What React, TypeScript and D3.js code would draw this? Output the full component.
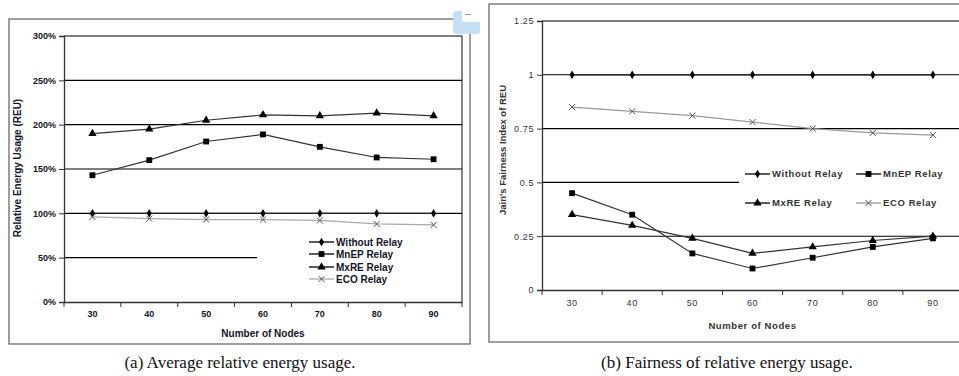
import React, { useEffect, useRef } from "react";
import * as d3 from "d3";

// data
const nodes = ["30", "40", "50", "60", "70", "80", "90"];

const seriesNames = ["Without Relay", "MnEP Relay", "MxRE Relay", "ECO Relay"];

// (a) relative energy usage, in percent
const reuWithout = [100, 100, 100, 100, 100, 100, 100];
const reuMnEP = [143, 160, 181, 189, 175, 163, 161];
const reuMxRE = [190, 195, 205, 211, 210, 213, 210];
const reuECO = [96, 94, 93, 93, 92, 88, 87];

// (b) Jain's fairness index of REU
const fairWithout = [1, 1, 1, 1, 1, 1, 1];
const fairMnEP = [0.45, 0.35, 0.17, 0.1, 0.15, 0.2, 0.24];
const fairMxRE = [0.35, 0.3, 0.24, 0.17, 0.2, 0.23, 0.25];
const fairECO = [0.85, 0.83, 0.81, 0.78, 0.75, 0.73, 0.72];

const reuTicks = [0, 50, 100, 150, 200, 250, 300];
const fairTicks = [0, 0.25, 0.5, 0.75, 1, 1.25];

const sans = "'Liberation Sans', Arial, sans-serif";
const serif = "'Liberation Serif', 'Times New Roman', serif";

const symbols = [d3.symbolDiamond, d3.symbolSquare, d3.symbolTriangle, d3.symbolX];
const symbolSizes = [22, 34, 30, 26];
const lineColors = ["#222", "#333", "#333", "#aaa"];

const App = () => {
    const svgRef = useRef();

    useEffect(() => {
        const svg = d3.select(svgRef.current);
        svg.selectAll("*").remove();

        const drawMarker = (g, i, x, y, color) => {
            const path = d3.symbol().type(symbols[i]).size(symbolSizes[i])();
            const m = g
                .append("path")
                .attr("d", path)
                .attr("transform", `translate(${x},${y})`);
            if (i === 3) {
                m.attr("fill", "none").attr("stroke", color).attr("stroke-width", 1);
            } else {
                m.attr("fill", "#000");
            }
        };

        const drawChart = (opts) => {
            const {
                left, right, top, bottom, domainMax, ticks, tickFmt, series,
                box, legendBg, gridCut, textColor, tickWeight, tickSpacing,
                yTitle, yTitleX, yTitleY, xLabelY, xTitleY, titleSize, ecoColor,
            } = opts;

            const g = svg.append("g");

            // outer frame
            g.append("rect")
                .attr("x", box.x)
                .attr("y", box.y)
                .attr("width", box.w)
                .attr("height", box.h)
                .attr("fill", "#fff")
                .attr("stroke", "#6a6a6a")
                .attr("stroke-width", 1.3);

            const xScale = d3.scaleBand().domain(nodes).range([left, right]).padding(0);
            const yScale = d3.scaleLinear().domain([0, domainMax]).range([bottom, top]);

            // horizontal gridlines (the one behind the legend is cut short)
            ticks.filter((t) => t > 0).forEach((t) => {
                g.append("line")
                    .attr("x1", left)
                    .attr("x2", t === gridCut.value ? gridCut.x : right)
                    .attr("y1", yScale(t))
                    .attr("y2", yScale(t))
                    .attr("stroke", "#000")
                    .attr("stroke-width", 1.1);
            });

            // right border of plot
            g.append("line")
                .attr("x1", right)
                .attr("x2", right)
                .attr("y1", top)
                .attr("y2", bottom)
                .attr("stroke", "#222")
                .attr("stroke-width", 1.1);

            // y axis
            const yAxis = g
                .append("g")
                .attr("transform", `translate(${left},0)`)
                .call(
                    d3.axisLeft(yScale)
                        .tickValues(ticks)
                        .tickSize(5)
                        .tickPadding(3)
                        .tickFormat(tickFmt)
                );
            yAxis.select(".domain").attr("stroke", "#333").attr("stroke-width", 1.3);
            yAxis.selectAll(".tick line").attr("stroke", "#333");
            yAxis.selectAll("text")
                .attr("font-family", sans)
                .attr("font-size", 9)
                .attr("font-weight", tickWeight)
                .attr("fill", textColor)
                .attr("letter-spacing", tickSpacing);

            // x axis: labels in band centres, ticks on band edges
            const xAxis = g
                .append("g")
                .attr("transform", `translate(0,${bottom})`)
                .call(d3.axisBottom(xScale).tickSize(0).tickPadding(xLabelY - bottom));
            xAxis.select(".domain").attr("stroke", "#333").attr("stroke-width", 1.3);
            xAxis.selectAll("text")
                .attr("font-family", sans)
                .attr("font-size", 9)
                .attr("font-weight", tickWeight)
                .attr("fill", textColor)
                .attr("letter-spacing", tickSpacing);
            const edges = nodes.map((d) => xScale(d)).concat([right]);
            edges.forEach((x) => {
                g.append("line")
                    .attr("x1", x)
                    .attr("x2", x)
                    .attr("y1", bottom)
                    .attr("y2", bottom + 5)
                    .attr("stroke", "#333");
            });

            // titles
            g.append("text")
                .attr("x", (left + right) / 2)
                .attr("y", xTitleY)
                .attr("text-anchor", "middle")
                .attr("font-family", sans)
                .attr("font-size", titleSize)
                .attr("font-weight", "bold")
                .attr("fill", textColor)
                .attr("letter-spacing", tickSpacing)
                .text("Number of Nodes");

            g.append("text")
                .attr("transform", `translate(${yTitleX},${yTitleY}) rotate(-90)`)
                .attr("text-anchor", "middle")
                .attr("font-family", sans)
                .attr("font-size", titleSize)
                .attr("font-weight", "bold")
                .attr("fill", textColor)
                .text(yTitle);

            // legend background hides gridline
            g.append("rect")
                .attr("x", legendBg.x)
                .attr("y", legendBg.y)
                .attr("width", legendBg.w)
                .attr("height", legendBg.h)
                .attr("fill", "#fff");

            // series
            const line = d3
                .line()
                .x((d, i) => xScale(nodes[i]) + xScale.bandwidth() / 2)
                .y((d) => yScale(d));

            series.forEach((values, si) => {
                const col = si === 3 ? ecoColor : lineColors[si];
                g.append("path")
                    .datum(values)
                    .attr("d", line)
                    .attr("fill", "none")
                    .attr("stroke", col)
                    .attr("stroke-width", 1.2);
                values.forEach((v, i) => {
                    drawMarker(
                        g,
                        si,
                        xScale(nodes[i]) + xScale.bandwidth() / 2,
                        yScale(v),
                        si === 3 ? "#555" : "#000"
                    );
                });
            });

            // legend
            opts.legendItems.forEach((it, si) => {
                const col = si === 3 ? ecoColor : "#000";
                g.append("line")
                    .attr("x1", it.x)
                    .attr("x2", it.x + it.len)
                    .attr("y1", it.y)
                    .attr("y2", it.y)
                    .attr("stroke", col)
                    .attr("stroke-width", 1.3);
                drawMarker(g, si, it.x + it.len / 2, it.y, "#555");
                g.append("text")
                    .attr("x", it.x + it.len + 2)
                    .attr("y", it.y)
                    .attr("dy", "0.35em")
                    .attr("font-family", sans)
                    .attr("font-size", opts.legendSize)
                    .attr("font-weight", "bold")
                    .attr("fill", textColor)
                    .attr("letter-spacing", tickSpacing)
                    .text(seriesNames[si]);
            });
        };

        // (a) average relative energy usage
        drawChart({
            left: 64,
            right: 462,
            top: 36,
            bottom: 302,
            domainMax: 300,
            ticks: reuTicks,
            tickFmt: (d) => `${d}%`,
            series: [reuWithout, reuMnEP, reuMxRE, reuECO],
            box: { x: 9, y: 19, w: 461, h: 325 },
            legendBg: { x: 257, y: 231, w: 204, h: 58 },
            gridCut: { value: 50, x: 257 },
            textColor: "#141428",
            tickWeight: "bold",
            tickSpacing: 0,
            yTitle: "Relative Energy Usage (REU)",
            yTitleX: 21,
            yTitleY: 168,
            xLabelY: 311,
            xTitleY: 337,
            titleSize: 10,
            ecoColor: "#aaa",
            legendSize: 10,
            legendItems: [
                { x: 309, y: 242, len: 25 },
                { x: 309, y: 254, len: 25 },
                { x: 309, y: 267, len: 25 },
                { x: 309, y: 279, len: 25 },
            ],
        });

        // (b) fairness of relative energy usage
        drawChart({
            left: 542,
            right: 963,
            top: 21,
            bottom: 290,
            domainMax: 1.25,
            ticks: fairTicks,
            tickFmt: (d) => `${d}`,
            series: [fairWithout, fairMnEP, fairMxRE, fairECO],
            box: { x: 489, y: 4, w: 480, h: 338 },
            legendBg: { x: 739, y: 160, w: 224, h: 60 },
            gridCut: { value: 0.5, x: 739 },
            textColor: "#333",
            tickWeight: "normal",
            tickSpacing: 0.6,
            yTitle: "Jain's Fairness Index of REU",
            yTitleX: 506,
            yTitleY: 150,
            xLabelY: 300,
            xTitleY: 329,
            titleSize: 9.5,
            ecoColor: "#999",
            legendSize: 9.5,
            legendItems: [
                { x: 745, y: 174, len: 25 },
                { x: 856, y: 174, len: 25 },
                { x: 745, y: 203, len: 25 },
                { x: 856, y: 203, len: 25 },
            ],
        });

        // captions
        svg.append("text")
            .attr("x", 240)
            .attr("y", 368)
            .attr("text-anchor", "middle")
            .attr("font-family", serif)
            .attr("font-size", 17)
            .attr("fill", "#111")
            .text("(a) Average relative energy usage.");

        svg.append("text")
            .attr("x", 727)
            .attr("y", 368)
            .attr("text-anchor", "middle")
            .attr("font-family", serif)
            .attr("font-size", 17)
            .attr("fill", "#111")
            .text("(b) Fairness of relative energy usage.");

        // little viewer widget in the corner
        svg.append("rect")
            .attr("x", 453)
            .attr("y", 11)
            .attr("width", 27)
            .attr("height", 23)
            .attr("rx", 3)
            .attr("fill", "#c6e0f3");
        svg.append("rect")
            .attr("x", 462)
            .attr("y", 4)
            .attr("width", 18)
            .attr("height", 18)
            .attr("fill", "#fff");
        svg.append("text")
            .attr("x", 465)
            .attr("y", 15)
            .attr("font-family", sans)
            .attr("font-size", 7)
            .attr("font-weight", "bold")
            .attr("fill", "#556")
            .text("...");
    }, []);

    return (
        <svg
            ref={svgRef}
            width={959}
            height={376}
            style={{ position: "absolute", left: 0, top: 0, background: "#fff" }}
        ></svg>
    );
};

export default App;
